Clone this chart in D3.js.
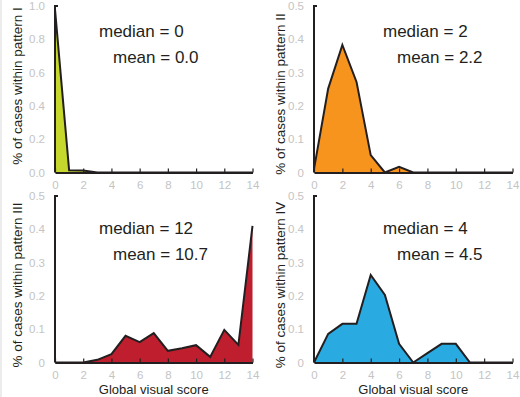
<!DOCTYPE html>
<html>
<head>
<meta charset="utf-8">
<script src="https://cdn.jsdelivr.net/npm/d3@7"></script>
<style>
  html, body { margin: 0; padding: 0; background: #fff; }
  svg { display: block; font-family: "Liberation Sans", Arial, Helvetica, sans-serif; }
</style>
</head>
<body>
<svg id="chart" width="520" height="397"></svg>
<script>
// Global visual score (x categories)
const scores = [0, 1, 2, 3, 4, 5, 6, 7, 8, 9, 10, 11, 12, 13, 14];
const xTicks = [0, 2, 4, 6, 8, 10, 12, 14];

// Share of cases within each pattern, per score
const patternI   = [0.98, 0.014, 0.012, 0, 0, 0, 0, 0, 0, 0, 0, 0, 0, 0, 0];
const patternII  = [0.01, 0.252, 0.383, 0.272, 0.052, 0, 0.017, 0, 0, 0, 0, 0, 0, 0, 0];
const patternIII = [0, 0, 0, 0.008, 0.025, 0.08, 0.061, 0.088, 0.035, 0.043, 0.052, 0.017, 0.098, 0.053, 0.41];
const patternIV  = [0, 0.086, 0.116, 0.116, 0.263, 0.203, 0.056, 0, 0.028, 0.056, 0.056, 0, 0, 0, 0];

const patternNames = ["I", "II", "III", "IV"];
const medians = ["0", "2", "12", "4"];
const means = ["0.0", "2.2", "10.7", "4.5"];

// y ticks for the first panel, and for the other three
const yTicksI = [0, 0.2, 0.4, 0.6, 0.8, 1.0];
const yTicksRest = [0, 0.1, 0.2, 0.3, 0.4, 0.5];

const fills = ["#c6d82c", "#f7941e", "#be1e2d", "#29abe2"];
const seriesList = [patternI, patternII, patternIII, patternIV];

const svg = d3.select("#chart");

// thin frame line at the left edge
svg.append("line")
  .attr("x1", 1).attr("x2", 1).attr("y1", 0).attr("y2", 397)
  .attr("stroke", "#d9d9d9").attr("stroke-width", 1);

// panel layout: plot box, label placement
const panels = [
  { x0: 55,  x1: 252.5, yTop: 6,   yBot: 172.5, yMax: 1.0, ticks: yTicksI,    fmt: d3.format(".1f"), labX: 17,  labY: 86,  tx: 99,  medY: 37,  meanY: 63,  xTitle: false },
  { x0: 314, x1: 512.5, yTop: 6,   yBot: 172.5, yMax: 0.5, ticks: yTicksRest, fmt: d => d === 0 ? "0" : d3.format(".1f")(d), labX: 280, labY: 94,  tx: 383, medY: 37,  meanY: 63,  xTitle: false },
  { x0: 55,  x1: 252.5, yTop: 196, yBot: 362.5, yMax: 0.5, ticks: yTicksRest, fmt: d => d === 0 ? "0" : d3.format(".1f")(d), labX: 17,  labY: 285, tx: 99,  medY: 234, meanY: 260, xTitle: true },
  { x0: 314, x1: 512.5, yTop: 196, yBot: 362.5, yMax: 0.5, ticks: yTicksRest, fmt: d => d === 0 ? "0" : d3.format(".1f")(d), labX: 280, labY: 285, tx: 383, medY: 234, meanY: 260, xTitle: true }
];

const tickGrey = "#c4c4c4";
const ink = "#231f20";

panels.forEach((p, i) => {
  const x = d3.scaleLinear().domain([0, 14]).range([p.x0, p.x1]);
  const y = d3.scaleLinear().domain([0, p.yMax]).range([p.yBot, p.yTop]);
  const values = seriesList[i];
  const pts = scores.map((s, k) => ({ s, v: values[k] }));
  const g = svg.append("g");

  // filled distribution
  g.append("path")
    .datum(pts)
    .attr("d", d3.area().x(d => x(d.s)).y0(y(0)).y1(d => y(d.v)))
    .attr("fill", fills[i]);

  g.append("path")
    .datum(pts)
    .attr("d", d3.line().x(d => x(d.s)).y(d => y(d.v)))
    .attr("fill", "none")
    .attr("stroke", ink)
    .attr("stroke-width", 2)
    .attr("stroke-linejoin", "miter");

  // x axis: baseline with short upward ticks, light grey labels
  const xAxis = d3.axisBottom(x).tickValues(xTicks).tickSizeInner(-4).tickSizeOuter(0).tickPadding(8);
  const xg = g.append("g").attr("transform", `translate(0,${y(0)})`).call(xAxis);
  xg.select(".domain").attr("stroke", ink).attr("stroke-width", 2);
  xg.selectAll(".tick line").attr("stroke", ink).attr("stroke-width", 1.2);
  xg.selectAll(".tick text")
    .attr("fill", tickGrey).attr("font-size", 11.5)
    .attr("font-family", "Liberation Sans, Arial, sans-serif")
    .attr("dy", "0.71em");

  // y axis: plain spine with a small stub at the top
  const yAxis = d3.axisLeft(y).tickValues(p.ticks).tickFormat(p.fmt).tickSize(0).tickPadding(10);
  const yg = g.append("g").attr("transform", `translate(${p.x0},0)`).call(yAxis);
  yg.select(".domain").remove();
  yg.selectAll(".tick text")
    .attr("fill", tickGrey).attr("font-size", 11.5)
    .attr("font-family", "Liberation Sans, Arial, sans-serif");
  g.append("path")
    .attr("d", `M${p.x0 + 3},${y(p.yMax)} H${p.x0} V${y(0)}`)
    .attr("fill", "none").attr("stroke", ink).attr("stroke-width", 2);

  // rotated y title
  g.append("text")
    .attr("transform", `translate(${p.labX},${p.labY}) rotate(-90)`)
    .attr("text-anchor", "middle")
    .attr("dy", "0.35em")
    .attr("font-size", 13.5)
    .attr("fill", ink)
    .text(`% of cases within pattern ${patternNames[i]}`);

  // summary statistics
  g.append("text")
    .attr("x", p.tx).attr("y", p.medY)
    .attr("font-size", 17).attr("fill", ink)
    .text(`median = ${medians[i]}`);
  g.append("text")
    .attr("x", p.tx + 14).attr("y", p.meanY)
    .attr("font-size", 17).attr("fill", ink)
    .text(`mean = ${means[i]}`);

  if (p.xTitle) {
    g.append("text")
      .attr("x", (p.x0 + p.x1) / 2).attr("y", 394)
      .attr("text-anchor", "middle")
      .attr("font-size", 13).attr("fill", ink)
      .text("Global visual score");
  }
});
</script>
</body>
</html>
